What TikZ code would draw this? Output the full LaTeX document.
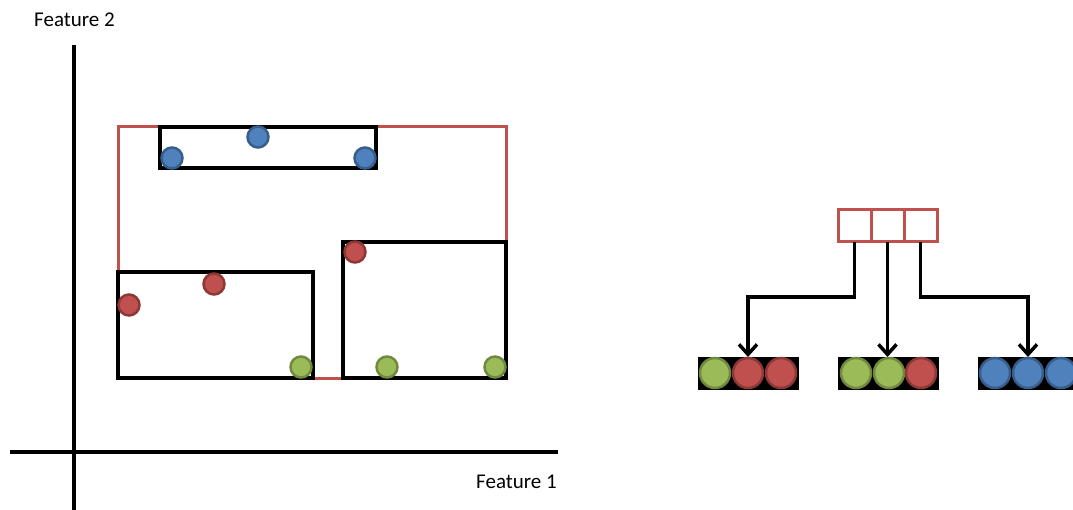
\documentclass[tikz,border=0pt]{standalone}
\usepackage{fontspec}
\setmainfont{Carlito}
\usetikzlibrary{arrows.meta}
\definecolor{oblue}{HTML}{4F81BD}
\definecolor{oblueD}{HTML}{385D8A}
\definecolor{ored}{HTML}{C0504D}
\definecolor{oredD}{HTML}{8C3836}
\definecolor{ogreen}{HTML}{9BBB59}
\definecolor{ogreenD}{HTML}{71893F}
\tikzset{
  axis/.style={line width=3.5pt, black},
  redline/.style={line width=3pt, ored},
  box/.style={draw=black, line width=3.5pt, inner sep=0pt, outer sep=0pt, anchor=north west},
  dot/.style={circle, inner sep=0pt, minimum size=21pt, line width=2.5pt},
  bdot/.style={dot, fill=oblue, draw=oblueD},
  rdot/.style={dot, fill=ored, draw=oredD},
  gdot/.style={dot, fill=ogreen, draw=ogreenD},
  big/.style={minimum size=30pt},
  cell/.style={draw=ored, line width=3pt, fill=white, inner sep=0pt, outer sep=0pt, minimum width=33pt, minimum height=32pt},
  arr/.style={line width=3.5pt, black, -{Straight Barb[length=10pt,width=18pt,line width=3.5pt]}},
  bar/.style={fill=black, draw=black, line width=1pt, inner sep=0pt, outer sep=0pt, anchor=north west, minimum width=100pt, minimum height=32pt},
  lbl/.style={font=\fontsize{21}{24}\selectfont, inner sep=0pt}
}
\begin{document}
\begin{tikzpicture}[x=1pt,y=-1pt]
\useasboundingbox (0,0) rectangle (1073,510);
% axes
\draw[axis] (74,45) -- (74,510);
\draw[axis] (10,452) -- (558,452);
\node[lbl, anchor=west] (f2) at (34,20) {Feature 2};
\node[lbl, anchor=east] (f1) at (557,482) {Feature 1};
% red region outline
\draw[redline] (118,272) -- (118,127) -- (506,127) -- (506,242);
\draw[redline] (313,378) -- (343,378);
% black boxes
\node[box, minimum width=216pt, minimum height=41pt] (top) at (160,127) {};
\node[box, minimum width=195pt, minimum height=106pt] (ll) at (118,272) {};
\node[box, minimum width=163pt, minimum height=136pt] (lr) at (343,242) {};
% points
\node[bdot] (b1) at (172,158) {};
\node[bdot] (b2) at (258,137) {};
\node[bdot] (b3) at (365,158) {};
\node[rdot] (r1) at (129,305) {};
\node[rdot] (r2) at (214,284) {};
\node[rdot] (r3) at (355,252) {};
\node[gdot] (g1) at (301,367) {};
\node[gdot] (g2) at (387,367) {};
\node[gdot] (g3) at (495,367) {};
% tree node
\node[cell] (c1) at (854.5,226) {};
\node[cell] (c2) at (887.5,226) {};
\node[cell] (c3) at (920.5,226) {};
% leaf arrays
\node[bar] (L1) at (698,357) {};
\node[bar] (L2) at (838,357) {};
\node[bar] (L3) at (978,357) {};
\node[gdot, big] (a11) at (715,373) {};
\node[rdot, big] (a12) at (748,373) {};
\node[rdot, big] (a13) at (781,373) {};
\node[gdot, big] (a21) at (856,373) {};
\node[gdot, big] (a22) at (889,373) {};
\node[rdot, big] (a23) at (921,373) {};
\node[bdot, big] (a31) at (995,373) {};
\node[bdot, big] (a32) at (1028,373) {};
\node[bdot, big] (a33) at (1061,373) {};
% connectors
\coordinate (lvl) at (0,297);
\draw[arr, line join=miter] (c1.south) -- (c1.south |- lvl) -| (L1.north -| a12);
\draw[arr] (c2.south) -- (c2.south |- L2.north);
\draw[arr, line join=miter] (c3.south) -- (c3.south |- lvl) -| (L3.north -| a32);
\end{tikzpicture}
\end{document}
